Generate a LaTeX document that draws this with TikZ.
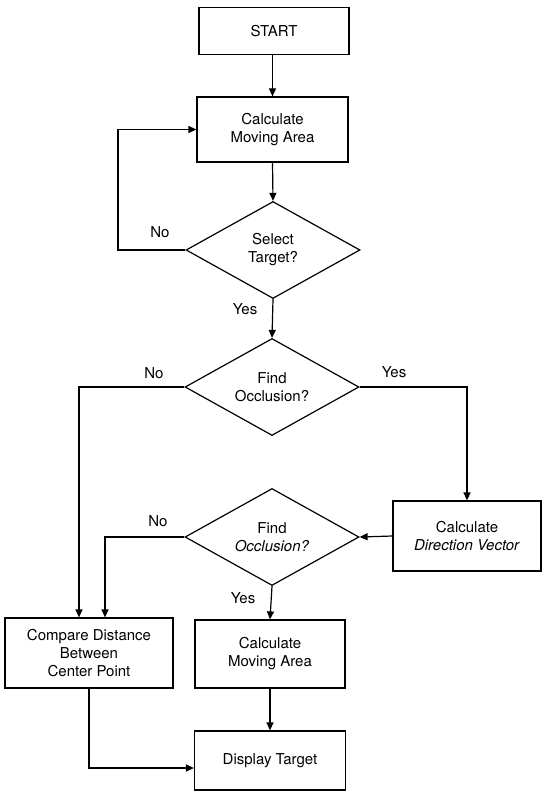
\documentclass[tikz,border=0pt]{standalone}
\usepackage{fontspec}
\setmainfont{TeX Gyre Heros}
\usetikzlibrary{shapes.geometric,arrows.meta}
\tikzset{
  every node/.style={font=\fontsize{15}{18}\selectfont},
  box/.style={draw, line width=1.2pt, align=center, inner sep=0pt},
  dec/.style={draw, diamond, line width=1.2pt, align=center, inner sep=0pt, aspect=1.8, minimum width=174pt, minimum height=97pt},
  conn/.style={line width=1.2pt, -{Triangle[length=8pt,width=7pt]}},
  plain/.style={line width=1.2pt},
  lbl/.style={inner sep=0pt}
}
\begin{document}
\begin{tikzpicture}[x=1pt,y=-1pt]
\useasboundingbox (0,0) rectangle (542,791);
\node[box, minimum width=150pt, minimum height=47pt] (start) at (274,31) {START};
\node[box, minimum width=151pt, minimum height=65pt] (calc1) at (272.5,129.5) {Calculate\\Moving Area};
\node[dec] (d1) at (273,250) {Select\\Target?};
\node[dec] (d2) at (272,387) {Find\\Occlusion?};
\node[box, minimum width=148pt, minimum height=70pt] (dir) at (467,536) {Calculate\\\textit{Direction Vector}};
\node[dec] (d3) at (272,537) {Find\\\textit{Occlusion?}};
\node[box, minimum width=168pt, minimum height=70pt] (comp) at (89,653) {Compare Distance\\Between\\Center Point};
\node[box, minimum width=150pt, minimum height=68pt] (calc2) at (270,654) {Calculate\\Moving Area};
\node[box, minimum width=151pt, minimum height=59pt] (disp) at (270,760.5) {Display Target};

\coordinate (lx) at (118,0);
\coordinate (l1) at (79,0);
\coordinate (l2) at (105,0);
\coordinate (ly) at (0,768);

\draw[conn] (start.south -| calc1.north) -- (calc1.north);
\draw[conn] (calc1.south) -- (d1.north);
\draw[conn] (d1.west) -| (lx |- calc1.west) -- (calc1.west);
\draw[conn] (d1.south) -- (d2.north);
\draw[conn] (d2.west) -| (l1 |- comp.north);
\draw[conn] (d2.east) -| (dir.north);
\draw[conn] (dir.west) -- (d3.east);
\draw[conn] (d3.west) -| (l2 |- comp.north);
\draw[conn] (d3.south) -- (calc2.north);
\draw[conn] (calc2.south) -- (disp.north);
\draw[conn] (comp.south) |- (disp.west |- ly);

\node[lbl] (no1) at (160,232) {No};
\node[lbl] (yes1) at (245,309) {Yes};
\node[lbl] (no2) at (154,373) {No};
\node[lbl] (yes2) at (394,372) {Yes};
\node[lbl] (no3) at (158,521) {No};
\node[lbl] (yes3) at (243,598) {Yes};
\end{tikzpicture}
\end{document}
